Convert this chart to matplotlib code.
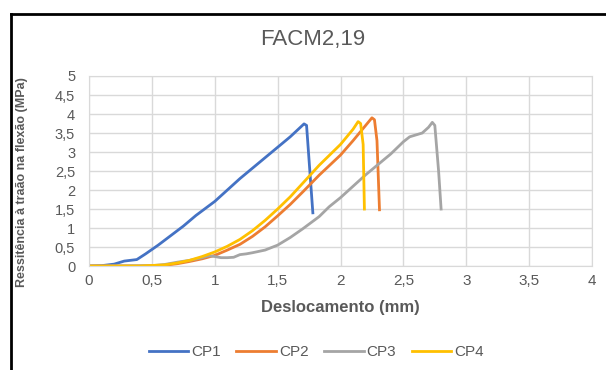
import matplotlib
matplotlib.use('Agg')
import matplotlib.pyplot as plt
from matplotlib.lines import Line2D

plt.rcParams['font.family'] = ['Liberation Sans', 'DejaVu Sans']

# displacement (mm) / stress (MPa)
cp1_x = [0, 0.1, 0.2, 0.28, 0.33, 0.38, 0.45, 0.55, 0.65, 0.75, 0.85, 1.0, 1.2, 1.4, 1.6, 1.71, 1.73, 1.78]
cp1_y = [0, 0.01, 0.05, 0.13, 0.15, 0.17, 0.32, 0.55, 0.8, 1.05, 1.33, 1.7, 2.3, 2.85, 3.4, 3.74, 3.7, 1.4]

cp2_x = [0, 0.4, 0.6, 0.7, 0.8, 0.9, 1.0, 1.1, 1.2, 1.3, 1.4, 1.5, 1.6, 1.7, 1.83, 2.0, 2.1, 2.2, 2.25, 2.27, 2.29, 2.31]
cp2_y = [0, 0.0, 0.02, 0.06, 0.12, 0.19, 0.28, 0.42, 0.57, 0.78, 1.03, 1.32, 1.62, 1.95, 2.39, 2.92, 3.3, 3.7, 3.9, 3.85, 3.3, 1.48]

cp3_x = [0, 0.5, 0.6, 0.7, 0.8, 0.9, 0.95, 1.0, 1.05, 1.1, 1.15, 1.2, 1.25, 1.3, 1.4, 1.5, 1.6, 1.7, 1.83, 1.91, 2.0, 2.2, 2.4, 2.5, 2.55, 2.6, 2.65, 2.7, 2.73, 2.75, 2.78, 2.8]
cp3_y = [0, 0.01, 0.04, 0.1, 0.15, 0.22, 0.27, 0.25, 0.22, 0.22, 0.23, 0.3, 0.32, 0.35, 0.42, 0.55, 0.75, 0.98, 1.3, 1.56, 1.8, 2.4, 2.95, 3.27, 3.4, 3.45, 3.5, 3.65, 3.78, 3.7, 2.5, 1.5]

cp4_x = [0, 0.4, 0.6, 0.7, 0.8, 0.9, 1.0, 1.1, 1.2, 1.3, 1.4, 1.5, 1.6, 1.7, 1.83, 2.0, 2.1, 2.14, 2.16, 2.18, 2.19]
cp4_y = [0, 0.0, 0.03, 0.08, 0.15, 0.25, 0.37, 0.52, 0.7, 0.93, 1.2, 1.5, 1.82, 2.18, 2.65, 3.2, 3.6, 3.8, 3.75, 3.2, 1.5]

series = [('CP1', cp1_x, cp1_y, '#4472C4'),
          ('CP2', cp2_x, cp2_y, '#ED7D31'),
          ('CP3', cp3_x, cp3_y, '#A5A5A5'),
          ('CP4', cp4_x, cp4_y, '#FFC000')]

txt = '#595959'
fig = plt.figure(figsize=(6.06, 3.70), dpi=100)
ax = fig.add_axes([0.1469, 0.281, 0.830, 0.5136])

for name, xs, ys, c in series:
    ax.plot(xs, ys, color=c, lw=2, label=name)

ax.set_xlim(0, 4)
ax.set_ylim(0, 5)
ax.set_xticks([0, 0.5, 1, 1.5, 2, 2.5, 3, 3.5, 4])
ax.set_xticklabels(['0', '0,5', '1', '1,5', '2', '2,5', '3', '3,5', '4'])
ax.set_yticks([0, 0.5, 1, 1.5, 2, 2.5, 3, 3.5, 4, 4.5, 5])
ax.set_yticklabels(['0', '0,5', '1', '1,5', '2', '2,5', '3', '3,5', '4', '4,5', '5'])
ax.grid(True, color='#D9D9D9', lw=1)
ax.set_axisbelow(True)
for s in ax.spines.values():
    s.set_color('#D9D9D9')
ax.tick_params(axis='x', length=0, labelsize=11, colors=txt, pad=6)
ax.tick_params(axis='y', length=0, labelsize=10.5, colors=txt, pad=10)

fig.text(0.5165, 0.892, 'FACM2,19', ha='center', va='center', fontsize=16, color=txt)
fig.text(0.562, 0.170, 'Deslocamento (mm)', ha='center', va='center', fontsize=12,
         fontweight='bold', color=txt)
fig.text(0.036, 0.508, 'Ressitência à traão na flexão (MPa)', ha='center', va='center',
         rotation=90, fontsize=9, fontweight='bold', color=txt)

leg = fig.legend(loc='center', bbox_to_anchor=(0.522, 0.049), ncol=4, frameon=False,
                 fontsize=11, handlelength=2.6, columnspacing=1.0, handletextpad=0.2)
for t in leg.get_texts():
    t.set_color(txt)

# black frame around the picture (top and left edges visible)
fig.add_artist(Line2D([0.0175, 1.0], [0.963, 0.963], color='black', lw=2, transform=fig.transFigure))
fig.add_artist(Line2D([0.0175, 0.0175], [0.0, 0.963], color='black', lw=2, transform=fig.transFigure))

fig.savefig('out.png', dpi=100)
